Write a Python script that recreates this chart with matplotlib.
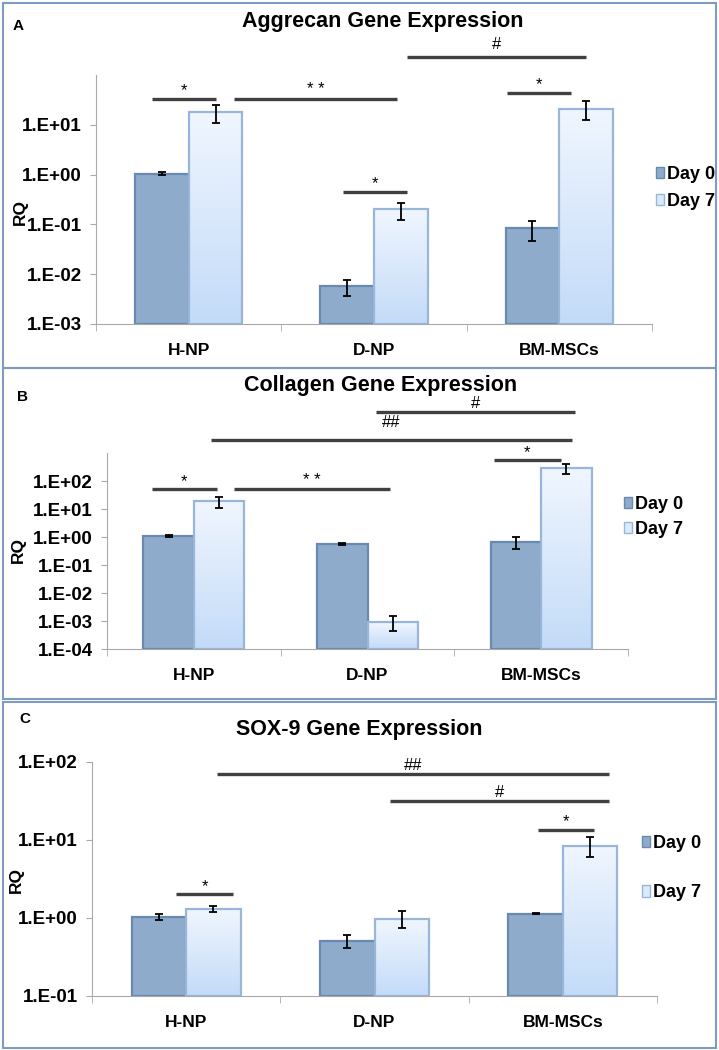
import numpy as np
import matplotlib
matplotlib.use("Agg")
import matplotlib.pyplot as plt
from matplotlib.patches import Rectangle, Patch
from matplotlib.colors import LinearSegmentedColormap
from matplotlib.ticker import FixedLocator, FuncFormatter, NullLocator

plt.rcParams['font.family'] = ['Liberation Sans', 'DejaVu Sans']
plt.rcParams['font.weight'] = 'bold'

W, H = 719, 1050

groups = ["H-NP", "D-NP", "BM-MSCs"]
series = ["Day 0", "Day 7"]

# A - aggrecan (RQ, lower / upper end of error bar)
agg_d0 = [1.05, 0.0058, 0.083]
agg_d0_lo = [0.98, 0.0036, 0.046]
agg_d0_hi = [1.12, 0.0076, 0.115]
agg_d7 = [18.0, 0.20, 21.0]
agg_d7_lo = [11.0, 0.12, 12.6]
agg_d7_hi = [25.0, 0.275, 30.0]

# B - collagen
col_d0 = [1.1, 0.57, 0.68]
col_d0_lo = [1.0, 0.53, 0.36]
col_d0_hi = [1.2, 0.61, 0.97]
col_d7 = [19.0, 0.00092, 295.0]
col_d7_lo = [10.5, 0.00045, 182.0]
col_d7_hi = [27.0, 0.00145, 410.0]

# C - SOX-9
sox_d0 = [1.04, 0.51, 1.14]
sox_d0_lo = [0.94, 0.41, 1.11]
sox_d0_hi = [1.11, 0.60, 1.17]
sox_d7 = [1.32, 0.97, 8.5]
sox_d7_lo = [1.18, 0.745, 6.1]
sox_d7_hi = [1.44, 1.22, 11.0]

# significance bars: label, x from, x to (category units), y level, label gap (px)
agg_sig = [("*", -0.20, 0.15, 33, 4), ("* *", 0.245, 1.124, 33, 5),
           ("*", 0.833, 1.178, 0.44, 4), ("*", 1.718, 2.063, 44, 4),
           ("#", 1.178, 2.144, 229, 8)]
col_sig = [("*", -0.241, 0.133, 52, 3), ("* *", 0.231, 1.129, 52, 4),
           ("*", 1.728, 2.114, 560, 3), ("##", 0.099, 2.177, 2900, 13),
           ("#", 1.049, 2.194, 29000, 4)]
sox_sig = [("*", -0.054, 0.249, 2.03, 3), ("*", 1.869, 2.166, 13.4, 4),
           ("#", 1.083, 2.246, 31.6, 4), ("##", 0.164, 2.246, 70, 4)]

D0_FACE, D0_EDGE = "#8eabcb", "#6a89b0"
D7_EDGE = "#98b6da"
grad_cmap = LinearSegmentedColormap.from_list("d7", ["#f0f6fe", "#c3dbf8"])
GRID = "#a9a9a9"
SIG = "#404040"


def fx(px):
    return px / W


def fy(py):
    return 1 - py / H


def panel(rect, d0, d0lo, d0hi, d7, d7lo, d7hi, ylim, yticks, sig):
    l, t, r, b = rect
    ax = fig.add_axes([fx(l), fy(b), (r - l) / W, (b - t) / H])
    ax.set_yscale("log")
    n = len(groups)
    x = np.arange(n)
    off, w = 0.145, 0.29
    ylo = ylim[0]
    d0, d7 = np.array(d0), np.array(d7)
    ax.bar(x - off, d0 - ylo, w, bottom=ylo, color=D0_FACE, edgecolor=D0_EDGE,
           linewidth=1.6, zorder=2)
    # vertical gradient fill for day 7 bars, placed in axes coordinates
    grad = np.linspace(0, 1, 256).reshape(-1, 1)
    span = np.log10(ylim[1]) - np.log10(ylim[0])
    for xi, v in zip(x + off, d7):
        ya = (np.log10(v) - np.log10(ylo)) / span
        xa0 = (xi - w / 2 + 0.5) / n
        xa1 = (xi + w / 2 + 0.5) / n
        ax.imshow(grad, cmap=grad_cmap, extent=(xa0, xa1, 0, ya), transform=ax.transAxes,
                  aspect="auto", origin="upper", zorder=2, interpolation="bilinear")
    ax.bar(x + off, d7 - ylo, w, bottom=ylo, facecolor="none", edgecolor=D7_EDGE,
           linewidth=1.6, zorder=3)
    ax.errorbar(x - off, d0, yerr=[d0 - np.array(d0lo), np.array(d0hi) - d0],
                fmt="none", ecolor="black", elinewidth=1.3, capsize=3, capthick=1.3, zorder=4)
    ax.errorbar(x + off, d7, yerr=[d7 - np.array(d7lo), np.array(d7hi) - d7],
                fmt="none", ecolor="black", elinewidth=1.3, capsize=3, capthick=1.3, zorder=4)

    ax.set_xlim(-0.5, n - 0.5)
    ax.set_ylim(*ylim)
    ax.yaxis.set_major_locator(FixedLocator(yticks))
    ax.yaxis.set_minor_locator(NullLocator())
    ax.yaxis.set_major_formatter(FuncFormatter(lambda v, p: "1.E%+03d" % round(np.log10(v))))
    ax.set_xticks(x)
    ax.set_xticklabels(groups)
    ax.set_xticks(np.arange(n + 1) - 0.5, minor=True)
    ax.tick_params(axis="x", which="major", length=0, pad=14, labelsize=12.5)
    ax.tick_params(axis="x", which="minor", length=5, color=GRID)
    ax.tick_params(axis="y", length=4, color=GRID, pad=6, labelsize=13.5)
    for s in ("top", "right"):
        ax.spines[s].set_visible(False)
    for s in ("left", "bottom"):
        ax.spines[s].set_color(GRID)

    for lab, x0, x1, y, gap in sig:
        ax.plot([x0, x1], [y, y], color=SIG, lw=2.4, solid_capstyle="butt",
                clip_on=False, zorder=5)
        ax.annotate(lab, xy=((x0 + x1) / 2, y), xytext=(0, gap * 0.72),
                    textcoords="offset points", ha="center", va="baseline",
                    fontsize=12, fontweight="normal", annotation_clip=False)
    return ax


fig = plt.figure(figsize=(W / 100, H / 100), dpi=100)

# panel frames
for top, bot in [(3, 368), (368, 699), (702, 1048)]:
    fig.patches.append(Rectangle((fx(3), fy(bot)), (716 - 3) / W, (bot - top) / H,
                                 transform=fig.transFigure, fill=False,
                                 edgecolor="#7f9cc0", linewidth=1.5))

handles = [Patch(facecolor=D0_FACE, edgecolor=D0_EDGE, label=series[0]),
           Patch(facecolor="#dce9f9", edgecolor=D7_EDGE, label=series[1])]

specs = [
    dict(rect=(96, 75, 652, 324), data=(agg_d0, agg_d0_lo, agg_d0_hi, agg_d7, agg_d7_lo, agg_d7_hi),
         ylim=(1e-3, 1e2), yticks=[1e-3, 1e-2, 1e-1, 1e0, 1e1], sig=agg_sig,
         title="Aggrecan Gene Expression", tpos=(383, 21), letter="A", lpos=(18, 26),
         rq=(20, 212), leg=(647, 188), lsp=0.55),
    dict(rect=(107, 453, 628, 649), data=(col_d0, col_d0_lo, col_d0_hi, col_d7, col_d7_lo, col_d7_hi),
         ylim=(1e-4, 1e3), yticks=[1e-4, 1e-3, 1e-2, 1e-1, 1e0, 1e1, 1e2], sig=col_sig,
         title="Collagen Gene Expression", tpos=(381, 386), letter="B", lpos=(22, 397),
         rq=(18, 550), leg=(615, 517), lsp=0.45),
    dict(rect=(92, 762, 657, 996), data=(sox_d0, sox_d0_lo, sox_d0_hi, sox_d7, sox_d7_lo, sox_d7_hi),
         ylim=(1e-1, 1e2), yticks=[1e-1, 1e0, 1e1, 1e2], sig=sox_sig,
         title="SOX-9 Gene Expression", tpos=(359, 729), letter="C", lpos=(25, 719),
         rq=(16, 880), leg=(633, 868), lsp=1.8),
]

for sp in specs:
    ax = panel(sp["rect"], *sp["data"], sp["ylim"], sp["yticks"], sp["sig"])
    fig.text(fx(sp["tpos"][0]), fy(sp["tpos"][1]), sp["title"], ha="center", va="center",
             fontsize=15.5)
    fig.text(fx(sp["lpos"][0]), fy(sp["lpos"][1]), sp["letter"], ha="center", va="center",
             fontsize=11)
    fig.text(fx(sp["rq"][0]), fy(sp["rq"][1]), "RQ", ha="center", va="center",
             rotation=90, fontsize=12.5)
    fig.legend(handles=handles, loc="center left", frameon=False,
               bbox_to_anchor=(fx(sp["leg"][0]), fy(sp["leg"][1])),
               bbox_transform=fig.transFigure, fontsize=13, handlelength=0.45,
               handleheight=0.6, handletextpad=0.15, labelspacing=sp["lsp"], borderpad=0)

fig.savefig("out.png", dpi=100)
